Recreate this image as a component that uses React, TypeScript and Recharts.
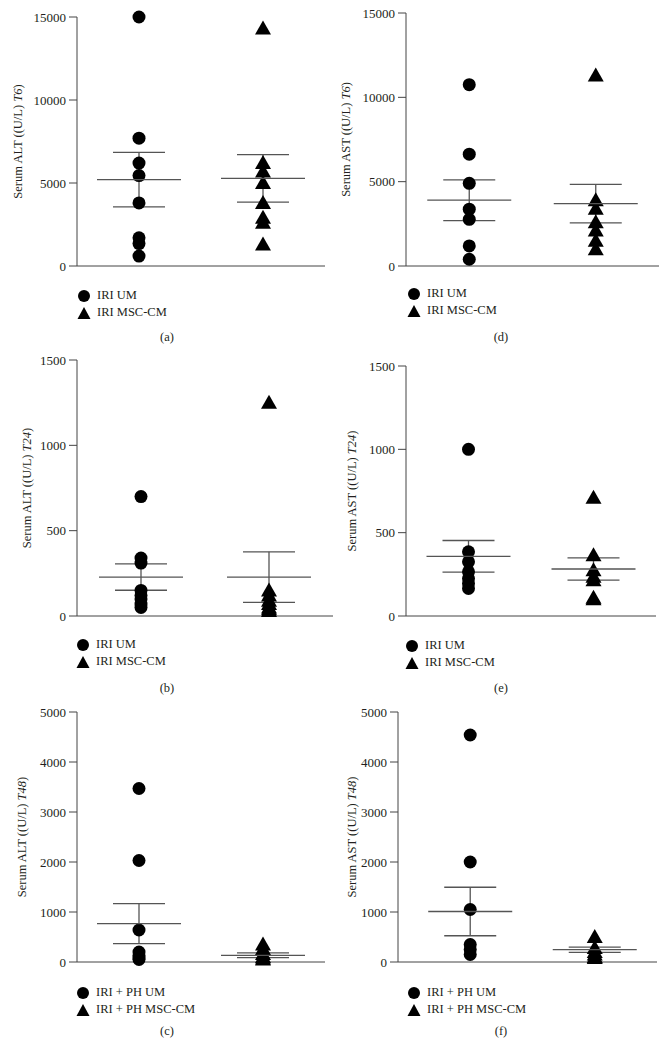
import React from "react"
import { ScatterChart, Scatter, XAxis, YAxis, ErrorBar, Legend, Label } from "recharts"

// values (U/L)
const altT6Um = [15000, 7700, 6200, 5450, 3800, 1700, 1350, 600]
const altT6Msc = [14300, 6200, 5700, 5000, 3800, 2900, 2600, 1300]
const altT6Mean = [5200, 5280]
const altT6Sem = [1640, 1430]

const astT6Um = [10750, 6630, 4900, 3370, 2770, 1190, 400]
const astT6Msc = [11300, 3900, 3400, 2600, 2100, 1500, 1000]
const astT6Mean = [3900, 3700]
const astT6Sem = [1210, 1140]

const altT24Um = [700, 340, 310, 150, 120, 100, 70, 50]
const altT24Msc = [1250, 150, 120, 90, 70, 50, 40, 30]
const altT24Mean = [228, 228]
const altT24Sem = [77, 148]

const astT24Um = [1000, 385, 325, 265, 225, 195, 165]
const astT24Msc = [710, 365, 275, 235, 215, 110, 100]
const astT24Mean = [358, 282]
const astT24Sem = [95, 67]

const altT48Um = [3470, 2030, 640, 200, 130, 80, 50]
const altT48Msc = [350, 260, 160, 100, 70, 50]
const altT48Mean = [768, 134]
const altT48Sem = [400, 47]

const astT48Um = [4540, 2000, 1050, 350, 250, 150]
const astT48Msc = [500, 280, 200, 150, 100, 80]
const astT48Mean = [1010, 246]
const astT48Sem = [485, 53]

const ticksT6 = [0, 5000, 10000, 15000]
const ticksT24 = [0, 500, 1000, 1500]
const ticksT48 = [0, 1000, 2000, 3000, 4000, 5000]

const namesIri = ["IRI UM", "IRI MSC-CM"]
const namesPh = ["IRI + PH UM", "IRI + PH MSC-CM"]

const FONT = "'Liberation Serif', 'DejaVu Serif', serif"
const INK = "#231f20"
const AXIS = "#444"

const CircleDot = (p: any) => <circle cx={p.cx} cy={p.cy} r={6.5} fill="#000" />
const TriangleDot = (p: any) => (
  <path d={`M${p.cx},${p.cy - 8}L${p.cx + 8},${p.cy + 6}L${p.cx - 8},${p.cy + 6}Z`} fill="#000" />
)
const MeanMark = (p: any) => (
  <line x1={p.cx - 42} x2={p.cx + 42} y1={p.cy} y2={p.cy} stroke="#555" strokeWidth={1.3} />
)

function Panel(props: any) {
  const { x, y, h, margin, yMax, ticks, xDomain, labelX, analyte, time, names, legendTop, legendLeft, caption, um, msc, mean, sem } = props
  const umData = um.map((v: number) => ({ x: 1, y: v }))
  const mscData = msc.map((v: number) => ({ x: 2, y: v }))
  const summary = mean.map((m: number, i: number) => ({ x: i + 1, y: m, sem: sem[i] }))

  const legendContent = () => (
    <div style={{ fontFamily: FONT, fontSize: 12.5, color: INK, lineHeight: "17px" }}>
      {names.map((n: string, i: number) => (
        <div key={n} style={{ display: "flex", alignItems: "center", height: 17 }}>
          <svg width={14} height={14} style={{ marginRight: 6 }}>
            {i === 0 ? <circle cx={7} cy={7} r={6} fill="#000" /> : <path d="M7,1L13.5,13L0.5,13Z" fill="#000" />}
          </svg>
          <span>{n}</span>
        </div>
      ))}
    </div>
  )

  const yLabel = (lp: any) => {
    const vb = lp.viewBox
    const cy = vb.y + vb.height / 2
    return (
      <text x={labelX} y={cy} transform={`rotate(-90, ${labelX}, ${cy})`} textAnchor="middle" dominantBaseline="central"
        fontFamily={FONT} fontSize={12.5} fill={INK}>
        {`Serum ${analyte} ((U/L) `}
        <tspan fontStyle="italic">{time}</tspan>
        {")"}
      </text>
    )
  }

  return (
    <>
      <div style={{ position: "absolute", left: x, top: y }}>
        <ScatterChart width={334} height={h} margin={margin}>
          <XAxis type="number" dataKey="x" domain={xDomain} tick={false} tickLine={false} height={1} stroke={AXIS} />
          <YAxis type="number" dataKey="y" domain={[0, yMax]} ticks={ticks} width={60} tickSize={8} tickMargin={3}
            stroke={AXIS} tick={{ fontSize: 13, fill: INK, fontFamily: FONT }} interval={0}>
            <Label content={yLabel} />
          </YAxis>
          <Legend content={legendContent} width={200} height={36} wrapperStyle={{ left: legendLeft, top: legendTop }} />
          <Scatter name={names[0]} data={umData} shape={CircleDot} isAnimationActive={false} />
          <Scatter name={names[1]} data={mscData} shape={TriangleDot} isAnimationActive={false} />
          <Scatter data={summary} shape={MeanMark} legendType="none" isAnimationActive={false}>
            <ErrorBar dataKey="sem" direction="y" width={26} stroke="#555" strokeWidth={1.3} isAnimationActive={false} />
          </Scatter>
        </ScatterChart>
      </div>
      <div style={{ position: "absolute", left: x, width: 334, top: props.captionY - 9, textAlign: "center", fontFamily: FONT, fontSize: 12.5, color: INK, lineHeight: "18px" }}>
        {caption}
      </div>
    </>
  )
}

export default function App() {
  return (
    <div style={{ position: "absolute", left: 0, top: 0, width: 668, height: 1048, background: "#fff", overflow: "hidden" }}>
      <Panel x={0} y={0} h={340} margin={{ top: 17, right: 9, left: 17, bottom: 37 }} yMax={15000} ticks={ticksT6}
        xDomain={[0.5, 2.5]} labelX={18} analyte="ALT" time="T6" names={namesIri} legendTop={287} legendLeft={77}
        caption="(a)" captionY={337} um={altT6Um} msc={altT6Msc} mean={altT6Mean} sem={altT6Sem} />
      <Panel x={334} y={0} h={340} margin={{ top: 13, right: 9, left: 12, bottom: 37 }} yMax={15000} ticks={ticksT6}
        xDomain={[0.5, 2.5]} labelX={12} analyte="AST" time="T6" names={namesIri} legendTop={285} legendLeft={73}
        caption="(d)" captionY={337} um={astT6Um} msc={astT6Msc} mean={astT6Mean} sem={astT6Sem} />
      <Panel x={0} y={340} h={340} margin={{ top: 20, right: 1, left: 17, bottom: 27 }} yMax={1500} ticks={ticksT24}
        xDomain={[0.5, 2.5]} labelX={27} analyte="ALT" time="T24" names={namesIri} legendTop={296} legendLeft={76}
        caption="(b)" captionY={688} um={altT24Um} msc={altT24Msc} mean={altT24Mean} sem={altT24Sem} />
      <Panel x={334} y={340} h={340} margin={{ top: 26, right: 12, left: 12, bottom: 27 }} yMax={1500} ticks={ticksT24}
        xDomain={[0.5, 2.5]} labelX={18} analyte="AST" time="T24" names={namesIri} legendTop={297} legendLeft={71}
        caption="(e)" captionY={688} um={astT24Um} msc={astT24Msc} mean={astT24Mean} sem={astT24Sem} />
      <Panel x={0} y={690} h={358} margin={{ top: 22, right: 9, left: 17, bottom: 49 }} yMax={5000} ticks={ticksT48}
        xDomain={[0.5, 2.5]} labelX={22} analyte="ALT" time="T48" names={namesPh} legendTop={294} legendLeft={76}
        caption="(c)" captionY={1031} um={altT48Um} msc={altT48Msc} mean={altT48Mean} sem={altT48Sem} />
      <Panel x={334} y={690} h={358} margin={{ top: 22, right: 11, left: 4, bottom: 49 }} yMax={5000} ticks={ticksT48}
        xDomain={[0.42, 2.5]} labelX={18} analyte="AST" time="T48" names={namesPh} legendTop={294} legendLeft={73}
        caption="(f)" captionY={1031} um={astT48Um} msc={astT48Msc} mean={astT48Mean} sem={astT48Sem} />
    </div>
  )
}
